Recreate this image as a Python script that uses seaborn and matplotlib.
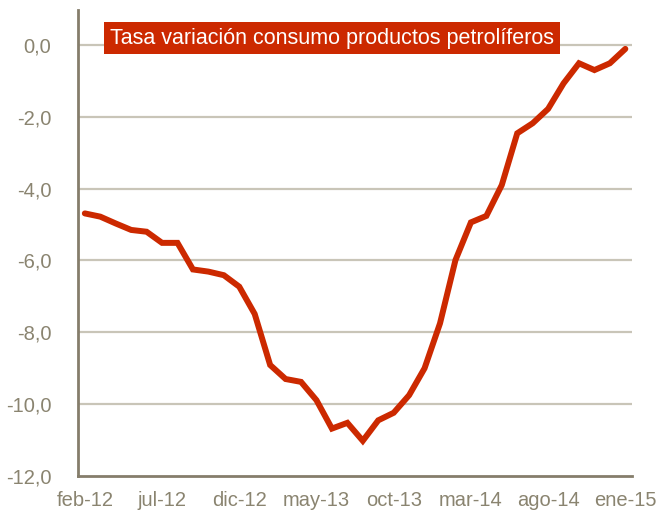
import pandas as pd
import matplotlib.pyplot as plt
import seaborn as sns

months = [
    "feb-12", "mar-12", "abr-12", "may-12", "jun-12", "jul-12", "ago-12", "sep-12",
    "oct-12", "nov-12", "dic-12", "ene-13", "feb-13", "mar-13", "abr-13", "may-13",
    "jun-13", "jul-13", "ago-13", "sep-13", "oct-13", "nov-13", "dic-13", "ene-14",
    "feb-14", "mar-14", "abr-14", "may-14", "jun-14", "jul-14", "ago-14", "sep-14",
    "oct-14", "nov-14", "dic-14", "ene-15",
]
tasa = [
    -4.69, -4.78, -4.97, -5.15, -5.20, -5.51, -5.51, -6.25,
    -6.31, -6.41, -6.73, -7.49, -8.91, -9.30, -9.38, -9.89,
    -10.68, -10.52, -11.02, -10.45, -10.24, -9.75, -9.00, -7.75,
    -5.99, -4.94, -4.76, -3.90, -2.46, -2.18, -1.78, -1.07,
    -0.51, -0.70, -0.51, -0.11,
]
tick_labels = ["feb-12", "jul-12", "dic-12", "may-13", "oct-13", "mar-14", "ago-14", "ene-15"]
y_ticks = [0, -2, -4, -6, -8, -10, -12]
title = "Tasa variación consumo productos petrolíferos"

RED = "#cc2900"
AXIS = "#857d6b"
GRID = "#c9c5b8"
LABEL = "#8a8470"

df = pd.DataFrame({"idx": range(len(months)), "mes": months, "tasa": tasa})

sns.set_style("white")
plt.rcParams["font.family"] = ["Liberation Sans", "DejaVu Sans"]

fig = plt.figure(figsize=(6.6, 5.12), dpi=100)
ax = fig.add_axes([0.118, 0.0703, 0.840, 0.910])

sns.lineplot(data=df, x="idx", y="tasa", color=RED, linewidth=4.3, ax=ax,
             solid_joinstyle="miter", solid_capstyle="round", zorder=3)

ax.set_xlim(-0.45, 35.45)
ax.set_ylim(-12, 0.97)
ax.set_yticks(y_ticks)
ax.set_yticklabels([f"{v:.1f}".replace(".", ",") for v in y_ticks])
ax.set_xticks([months.index(m) for m in tick_labels])
ax.set_xticklabels(tick_labels)
ax.set_xlabel("")
ax.set_ylabel("")

for v in y_ticks[:-1]:
    ax.axhline(v, color=GRID, linewidth=1.6, zorder=1)

for s in ["top", "right"]:
    ax.spines[s].set_visible(False)
for s in ["left", "bottom"]:
    ax.spines[s].set_color(AXIS)
    ax.spines[s].set_linewidth(2)

ax.tick_params(axis="y", length=0, pad=19, labelsize=14.5, labelcolor=LABEL)
ax.tick_params(axis="x", length=0, pad=11, labelsize=14.5, labelcolor=LABEL)

ax.text(0.058, 0.940, title, transform=ax.transAxes, color="white", fontsize=15.5,
        va="center", ha="left", zorder=5,
        bbox=dict(boxstyle="square,pad=0.26", facecolor=RED, edgecolor="none"))

fig.savefig("out.png", dpi=100)
